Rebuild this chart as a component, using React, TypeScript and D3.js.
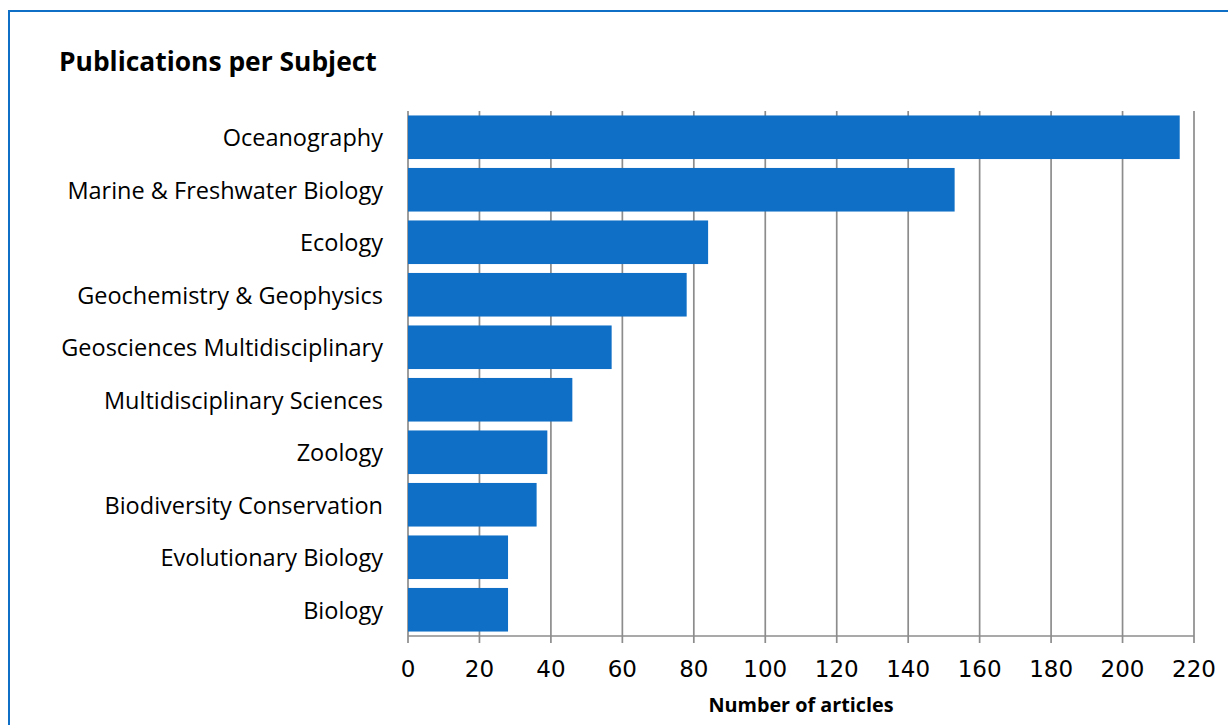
import * as d3 from 'd3'

const WIDTH = 1228
const HEIGHT = 725
const MARGIN = { top: 111, right: 34, bottom: 89, left: 408 }

// subjects, top to bottom
const subjects = [
  'Oceanography',
  'Marine & Freshwater Biology',
  'Ecology',
  'Geochemistry & Geophysics',
  'Geosciences Multidisciplinary',
  'Multidisciplinary Sciences',
  'Zoology',
  'Biodiversity Conservation',
  'Evolutionary Biology',
  'Biology',
]
const articleCounts = [216, 153, 84, 78, 57, 46, 39, 36, 28, 28]
const xTicks = [0, 20, 40, 60, 80, 100, 120, 140, 160, 180, 200, 220]

const BLUE = '#0f6fc6'
const GRID = '#8c8c8c'
const LABEL_FONT = '"Open Sans", "Noto Sans", sans-serif'

export default function App() {
  const boundsWidth = WIDTH - MARGIN.left - MARGIN.right
  const boundsHeight = HEIGHT - MARGIN.top - MARGIN.bottom

  const xScale = d3.scaleLinear().domain([0, 220]).range([0, boundsWidth])
  const yScale = d3
    .scaleBand()
    .domain(subjects)
    .range([0, boundsHeight])
    .paddingInner(0.17)
    .paddingOuter(0.085)

  return (
    <svg
      width={WIDTH}
      height={HEIGHT}
      style={{ position: 'absolute', left: 0, top: 0, background: '#fff' }}
    >
      {/* frame */}
      <rect x={9} y={11} width={WIDTH + 10} height={HEIGHT + 10} fill="none" stroke={BLUE} strokeWidth={2} />

      <text x={59} y={71} fontFamily={LABEL_FONT} fontWeight={700} fontSize={26.4} fill="#000">
        Publications per Subject
      </text>

      <g transform={`translate(${MARGIN.left},${MARGIN.top})`}>
        {/* vertical gridlines */}
        {xTicks.map((t) => (
          <line
            key={'g' + t}
            x1={xScale(t)}
            x2={xScale(t)}
            y1={0}
            y2={boundsHeight + 7}
            stroke={GRID}
            strokeWidth={1.7}
          />
        ))}

        {/* bars */}
        {subjects.map((s, i) => (
          <rect
            key={s}
            x={0}
            y={yScale(s)}
            width={xScale(articleCounts[i])}
            height={yScale.bandwidth()}
            fill={BLUE}
          />
        ))}

        {/* x axis line */}
        <line x1={0} x2={boundsWidth} y1={boundsHeight} y2={boundsHeight} stroke={GRID} strokeWidth={1.7} />

        {/* category labels */}
        {subjects.map((s) => (
          <text
            key={'l' + s}
            x={-25}
            y={(yScale(s) ?? 0) + yScale.bandwidth() / 2}
            textAnchor="end"
            dominantBaseline="central"
            fontFamily={LABEL_FONT}
            fontSize={23.5}
            fill="#000"
          >
            {s}
          </text>
        ))}

        {/* tick labels */}
        {xTicks.map((t) => (
          <text
            key={'t' + t}
            x={xScale(t)}
            y={boundsHeight + 33}
            textAnchor="middle"
            dominantBaseline="central"
            fontFamily='"DejaVu Sans", sans-serif'
            fontSize={23}
            fill="#000"
          >
            {t}
          </text>
        ))}

        <text
          x={boundsWidth / 2}
          y={boundsHeight + 76}
          textAnchor="middle"
          fontFamily={LABEL_FONT}
          fontWeight={700}
          fontSize={19.8}
          fill="#000"
        >
          Number of articles
        </text>
      </g>
    </svg>
  )
}
